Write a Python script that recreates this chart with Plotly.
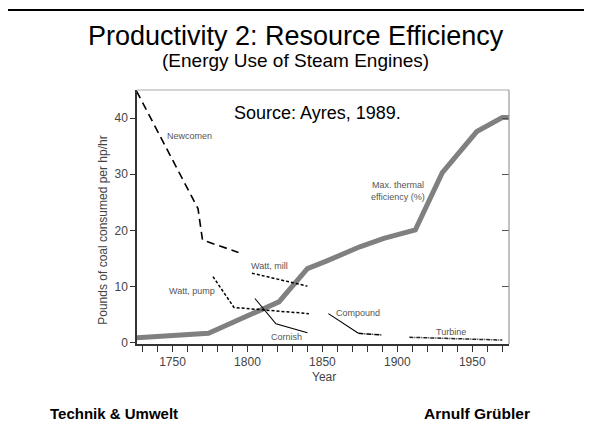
import plotly.graph_objects as go

# steam engine coal use (lb per hp/hr)
newcomen_years = [1726, 1767, 1770, 1794]
newcomen_vals = [44.8, 23.9, 18.3, 16.1]

watt_pump_years = [1777, 1791, 1841]
watt_pump_vals = [11.8, 6.3, 5.2]

watt_mill_years = [1803, 1840]
watt_mill_vals = [12.4, 10.1]

cornish_years = [1805, 1819, 1840]
cornish_vals = [7.9, 3.4, 1.8]

compound_years = [1854, 1874, 1890]
compound_vals = [5.2, 1.7, 1.4]

turbine_years = [1908, 1970]
turbine_vals = [1.0, 0.5]

# max thermal efficiency (%)
thermal_years = [1726, 1774, 1821, 1840, 1853, 1875, 1891, 1912, 1930, 1953, 1970, 1976]
thermal_vals = [0.9, 1.7, 7.3, 13.2, 14.6, 17.1, 18.6, 20.1, 30.3, 37.6, 40.1, 40.1]

xticks = list(range(1730, 1971, 10))
xlabels = [str(t) if t % 50 == 0 else "" for t in xticks]
yticks = [0, 10, 20, 30, 40]

FONT = "Liberation Sans, Arial, sans-serif"

fig = go.Figure()


def addLine(x, y, color="black", width=1.5, dash="solid"):
    fig.add_trace(go.Scatter(x=x, y=y, mode="lines", hoverinfo="skip",
                             line=dict(color=color, width=width, dash=dash)))


def addText(text, x, y, size, color="black", ref="data", angle=0, xanchor="center"):
    r = "paper" if ref == "paper" else None
    fig.add_annotation(x=x, y=y, text=text, showarrow=False, textangle=angle,
                       xref=r or "x", yref=r or "y",
                       xanchor=xanchor, yanchor="middle",
                       font=dict(family=FONT, size=size, color=color))


addLine(thermal_years, thermal_vals, color="#808080", width=5)
addLine(newcomen_years, newcomen_vals, width=1.6, dash="8px,5px")
addLine(watt_pump_years, watt_pump_vals, width=1.5, dash="3px,2px")
addLine(watt_mill_years, watt_mill_vals, width=1.5, dash="3px,2px")
addLine(cornish_years, cornish_vals, width=1.1)
addLine(compound_years[:2], compound_vals[:2], width=1.1)
addLine(compound_years[1:], compound_vals[1:], width=1.5, dash="5px,1px,1px,1px")
addLine(turbine_years, turbine_vals, width=1.5, color="#222", dash="4px,1px,1px,1px")

labels = [
    ("Newcomen", 1761.5, 36.9),
    ("Watt, mill", 1814.5, 13.7),
    ("Watt, pump", 1763, 9.3),
    ("Cornish", 1825.8, 1.0),
    ("Compound", 1874, 5.3),
    ("Turbine", 1935.6, 2.0),
    ("Max. thermal<br>efficiency (%)", 1900.5, 27.0),
]
for text, x, y in labels:
    addText(text, x, y, 9, color="#555")

addText("Source: Ayres, 1989.", 1846.5, 40.9, 18)

# slide texts (paper coords relative to the plot area)
addText("Productivity 2: Resource Efficiency", 0.4274, 1.214, 27, ref="paper")
addText("(Energy Use of Steam Engines)", 0.426, 1.118, 19, ref="paper")
addText("<b>Technik & Umwelt</b>", -0.2392, -0.2717, 15, ref="paper", xanchor="left")
addText("<b>Arnulf Grübler</b>", 1.0618, -0.2717, 15.5, ref="paper", xanchor="right")
addText("Pounds of coal consumed per hp/hr", -0.092, 0.449, 12, color="#444",
        ref="paper", angle=-90)
addText("Year", 0.5035, -0.129, 12, color="#444", ref="paper")

# top and right frame (light), slide border
fig.add_shape(type="line", xref="paper", yref="paper", x0=0, x1=1, y0=1, y1=1,
              line=dict(color="#aaa", width=1.2))
fig.add_shape(type="line", xref="paper", yref="paper", x0=1, x1=1, y0=0, y1=1,
              line=dict(color="#999", width=1.2))
fig.add_shape(type="rect", xref="paper", yref="paper", x0=-0.3495, x1=1.3,
              y0=-0.5, y1=1.315, line=dict(color="black", width=2))

# page body has an 8px margin, so the figure is 8px smaller each way
fig.update_layout(
    width=584, height=436,
    margin=dict(l=129, r=83, t=82, b=100),
    paper_bgcolor="white", plot_bgcolor="white",
    showlegend=False,
    font=dict(family=FONT, size=11, color="#444"),
    xaxis=dict(range=[1726.3, 1974.5], tickvals=xticks, ticktext=xlabels,
               ticks="outside", ticklen=6, tickcolor="#333", showgrid=False,
               zeroline=False, showline=True, linecolor="#333", linewidth=1.5,
               tickfont=dict(size=12, color="#444")),
    yaxis=dict(range=[-0.2, 45], tickvals=yticks, ticks="outside", ticklen=5,
               tickcolor="#333", showgrid=False, zeroline=False, showline=True,
               linecolor="#333", linewidth=1.5, tickfont=dict(size=12, color="#444")),
    yaxis2=dict(range=[-0.2, 45], overlaying="y", side="right", tickvals=yticks[1:],
                ticks="inside", ticklen=7, tickcolor="#555", showticklabels=False,
                showgrid=False, zeroline=False, showline=False),
)
# dummy trace so the right-hand ticks get drawn
fig.add_trace(go.Scatter(x=[None], y=[None], yaxis="y2", hoverinfo="skip"))

fig.write_html("out.html")
